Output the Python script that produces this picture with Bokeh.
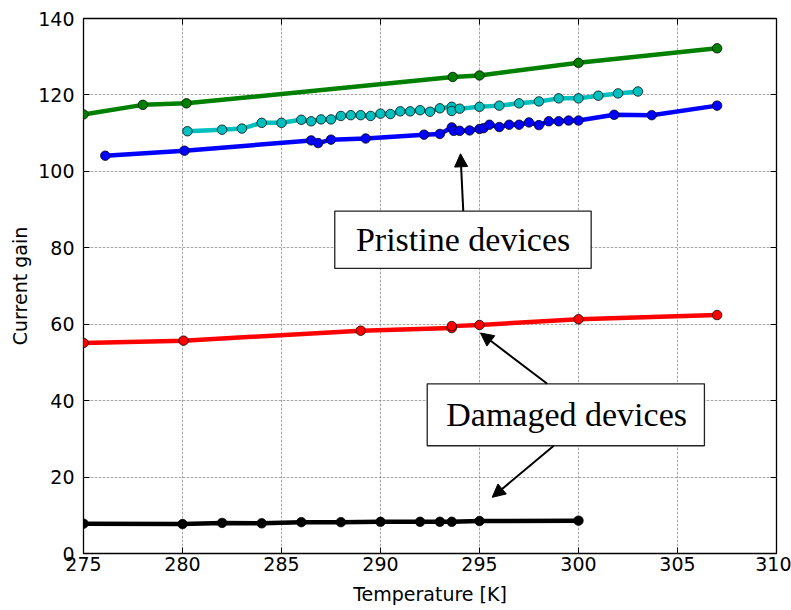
from bokeh.plotting import figure
from bokeh.models import (LinearAxis, Range1d, FixedTicker, BoxAnnotation,
                          Label, Arrow, NormalHead, Grid)
from bokeh.embed import file_html
from bokeh.resources import INLINE

# ---------------- data ----------------
green_T = [275, 278, 280.2, 293.65, 295, 300, 307]
green_G = [114.9, 117.4, 117.8, 124.7, 125.1, 128.4, 132.2]

cyan_T = [280.25, 282.0, 283.0, 284.0, 285.0, 286.0, 286.5, 287.0, 287.5, 288.0,
          288.5, 289.0, 289.5, 290.0, 290.5, 291.0, 291.5, 292.0, 292.5, 293.0,
          293.6, 293.6, 294.0, 295.0, 296.0, 297.0, 298.0, 299.0, 300.0, 301.0,
          302.0, 303.0]
cyan_G = [110.5, 110.9, 111.2, 112.7, 112.7, 113.5, 113.1, 113.6, 113.6, 114.5,
          114.7, 114.7, 114.5, 115.1, 115.0, 115.7, 115.7, 116.0, 115.6, 116.5,
          116.9, 115.8, 116.4, 116.9, 117.2, 117.8, 118.3, 119.1, 119.1, 119.8,
          120.4, 120.9]

blue_T = [276.1, 280.1, 286.5, 286.85, 287.5, 289.25, 292.2, 293.0, 293.6, 293.7,
          294.0, 294.5, 295.0, 295.2, 295.5, 296.0, 296.5, 297.0, 297.5, 298.0,
          298.5, 299.0, 299.5, 300.0, 301.8, 303.7, 307.0]
blue_G = [104.1, 105.4, 108.1, 107.4, 108.3, 108.6, 109.6, 109.8, 111.5, 110.6,
          110.6, 110.7, 111.1, 111.3, 112.2, 111.6, 112.2, 112.2, 112.8, 112.1,
          113.1, 113.1, 113.3, 113.3, 114.8, 114.7, 117.2]

red_T = [275, 280.05, 289.0, 293.6, 293.6, 295.0, 300.0, 307.0]
red_G = [55.1, 55.7, 58.3, 59.0, 59.5, 59.8, 61.3, 62.4]

black_T = [275, 280, 282, 284, 286, 288, 290, 292, 293, 293.6, 295, 300]
black_G = [7.8, 7.7, 8.0, 7.9, 8.2, 8.2, 8.3, 8.3, 8.3, 8.3, 8.5, 8.6]

x_ticks = [275, 280, 285, 290, 295, 300, 305, 310]
y_ticks = [0, 20, 40, 60, 80, 100, 120, 140]

series = [
    (green_T, green_G, "#008000"),
    (blue_T, blue_G, "#0000ff"),
    (cyan_T, cyan_G, "#00bfbf"),
    (red_T, red_G, "#ff0000"),
    (black_T, black_G, "#000000"),
]

# ---------------- figure ----------------
p = figure(width=791, height=610, output_backend="svg", toolbar_location=None,
           x_range=Range1d(x_ticks[0], x_ticks[-1]), y_range=Range1d(y_ticks[0], y_ticks[-1]),
           x_axis_location=None, y_axis_location=None,
           min_border_left=83, min_border_right=15, min_border_top=18, min_border_bottom=57)
p.background_fill_color = "white"
p.border_fill_color = "white"
p.outline_line_color = "black"
p.outline_line_width = 1.3

FONT = "DejaVu Sans"
FS = "19px"

def make_axis(loc, ticks, label):
    ax = LinearAxis(ticker=FixedTicker(ticks=ticks))
    ax.axis_line_color = None
    ax.major_tick_in = 6
    ax.major_tick_out = 0
    ax.minor_tick_line_color = None
    ax.major_tick_line_color = "black"
    ax.major_label_text_font = FONT
    ax.major_label_text_font_size = FS
    ax.major_label_text_color = "black"
    ax.axis_label = label
    ax.axis_label_text_font = FONT
    ax.axis_label_text_font_size = FS
    ax.axis_label_text_font_style = "normal"
    ax.axis_label_text_color = "black"
    p.add_layout(ax, loc)
    return ax

def tick_only_axis(loc, ticks):
    # ticks drawn as minor ticks so that no labels are produced
    ax = LinearAxis(ticker=FixedTicker(ticks=[], minor_ticks=ticks))
    ax.axis_line_color = None
    ax.major_tick_line_color = None
    ax.minor_tick_in = 6
    ax.minor_tick_out = 0
    ax.minor_tick_line_color = "black"
    ax.minor_tick_line_width = 1
    p.add_layout(ax, loc)
    return ax

xb = make_axis("below", x_ticks, "Temperature [K]")
xb.major_label_standoff = 3
xb.axis_label_standoff = 9
yl = make_axis("left", y_ticks, "Current gain")
yl.major_label_standoff = 9
yl.axis_label_standoff = 4
tick_only_axis("above", x_ticks)
tick_only_axis("right", y_ticks)

p.add_layout(Grid(dimension=0, ticker=FixedTicker(ticks=x_ticks),
                  grid_line_color="#666666", grid_line_dash="1 3", grid_line_width=1))
p.add_layout(Grid(dimension=1, ticker=FixedTicker(ticks=y_ticks),
                  grid_line_color="#666666", grid_line_dash="1 3", grid_line_width=1))

for T, G, c in series:
    p.line(T, G, line_color=c, line_width=4.5, line_alpha=1.0)
    p.scatter(T, G, size=9.5, fill_color=c, line_color="black", line_alpha=0.75, line_width=1)

# ---------------- annotations ----------------
for l, r, b, t in [(287.69, 300.64, 74.6, 89.6), (292.36, 306.36, 28.2, 44.4)]:
    p.add_layout(BoxAnnotation(left=l, right=r, bottom=b, top=t,
                               fill_color="white", fill_alpha=1, line_color="#222222",
                               line_alpha=1, line_width=1.3, level="annotation"))
p.add_layout(Label(x=294.17, y=82.1, text="Pristine devices", text_align="center",
                   text_baseline="middle", text_font="Liberation Serif",
                   text_font_size="34px", text_color="black"))
p.add_layout(Label(x=299.4, y=36.3, text="Damaged devices", text_align="center",
                   text_baseline="middle", text_font="Liberation Serif",
                   text_font_size="34px", text_color="black"))

arrows = [
    (294.18, 89.6, 294.04, 104.6),
    (298.42, 44.4, 295.05, 57.7),
    (298.75, 28.2, 295.64, 14.7),
]
for xs, ys, xe, ye in arrows:
    p.add_layout(Arrow(x_start=xs, y_start=ys, x_end=xe, y_end=ye, line_width=2,
                       line_color="black",
                       end=NormalHead(size=13, fill_color="black", fill_alpha=1,
                                      line_color="black", line_width=1)))

open("out.html", "w").write(file_html(p, INLINE))
